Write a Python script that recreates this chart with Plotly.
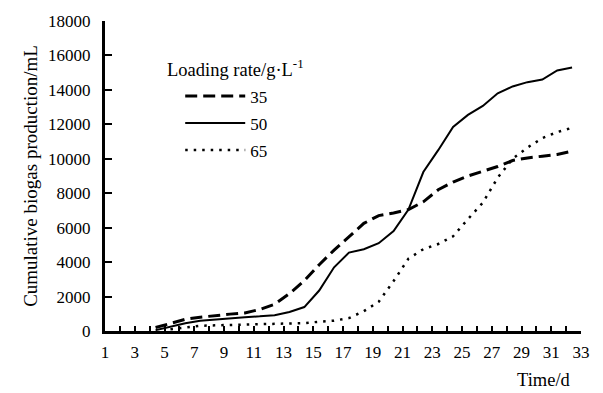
import plotly.graph_objects as go

# Sampling times (d) as plotted on the time axis
days = [d + 0.4 for d in range(1, 33)]

# Cumulative biogas production (mL), loading rate 35 g/L
load35 = [None, None, None, 200, 450, 680, 800, 900, 980, 1050, 1250, 1550, 2170, 2920,
          3850, 4700, 5450, 6250, 6700, 6850, 7050, 7500, 8200, 8650, 9000, 9280,
          9550, 9900, 10050, 10150, 10250, 10450]
# loading rate 50 g/L
load50 = [None, None, None, 50, 250, 450, 600, 680, 730, 800, 850, 920, 1100, 1390,
          2350, 3700, 4550, 4750, 5100, 5800, 7050, 9230, 10500, 11850, 12550, 13070,
          13800, 14200, 14450, 14600, 15130, 15300]
# loading rate 65 g/L
load65 = [None, None, None, None, 100, 200, 300, 330, 350, 370, 400, 430, 450, 460,
          540, 600, 750, 1150, 1700, 2900, 4200, 4750, 5050, 5500, 6500, 7450,
          8900, 10000, 10650, 11200, 11550, 11800]

series_names = ["35", "50", "65"]
legend_title = "Loading rate/g·L<sup>-1</sup>"
x_title = "Time/d"
y_title = "Cumulative biogas production/mL"

FONT = "Liberation Serif"
f = lambda s=17: dict(family=FONT, size=s, color="black")

fig = go.Figure()
fig.add_trace(go.Scatter(x=days, y=load35, mode="lines", name=series_names[0],
                         legendgroup="a",
                         line=dict(color="black", width=3, dash="12px,6px")))
fig.add_trace(go.Scatter(x=days, y=load50, mode="lines", name=series_names[1],
                         legendgroup="b",
                         line=dict(color="black", width=2)))
fig.add_trace(go.Scatter(x=days, y=load65, mode="lines", name=series_names[2],
                         legendgroup="c",
                         line=dict(color="black", width=2.5, dash="2.5px,6px")))

fig.update_layout(
    width=603, height=393,
    margin=dict(l=105, r=22, t=17, b=62),
    paper_bgcolor="white", plot_bgcolor="white",
    font=f(),
    showlegend=True,
    legend=dict(x=0.158, y=0.815, xanchor="left", yanchor="top",
                bgcolor="rgba(0,0,0,0)", font=f(),
                tracegroupgap=2, itemwidth=60),
    xaxis=dict(range=[1, 33], tick0=1, dtick=2, showline=True, linecolor="black",
               linewidth=3, ticks="inside", ticklen=5, tickwidth=2, tickcolor="black",
               showgrid=False, zeroline=False, ticklabelstandoff=4,
               minor=dict(dtick=1, tick0=1, ticks="inside", ticklen=5, tickwidth=2,
                          tickcolor="black", showgrid=False),
               tickfont=f()),
    yaxis=dict(range=[0, 18000], dtick=2000, tickformat="d", showline=True,
               linecolor="black",
               linewidth=3, ticks="inside", ticklen=7, tickwidth=2, tickcolor="black",
               showgrid=False, zeroline=False, ticklabelstandoff=8,
               title=dict(text=y_title, standoff=6, font=f(19)),
               tickfont=f()),
    annotations=[
        dict(text=x_title, xref="paper", yref="paper", x=0.983, y=-0.159,
             xanchor="right", yanchor="middle", showarrow=False, font=f(18.5)),
        dict(text=legend_title, xref="paper", yref="paper", x=0.126, y=0.85,
             xanchor="left", yanchor="middle", showarrow=False, font=f(18.5)),
    ],
)

fig.write_html("out.html")
